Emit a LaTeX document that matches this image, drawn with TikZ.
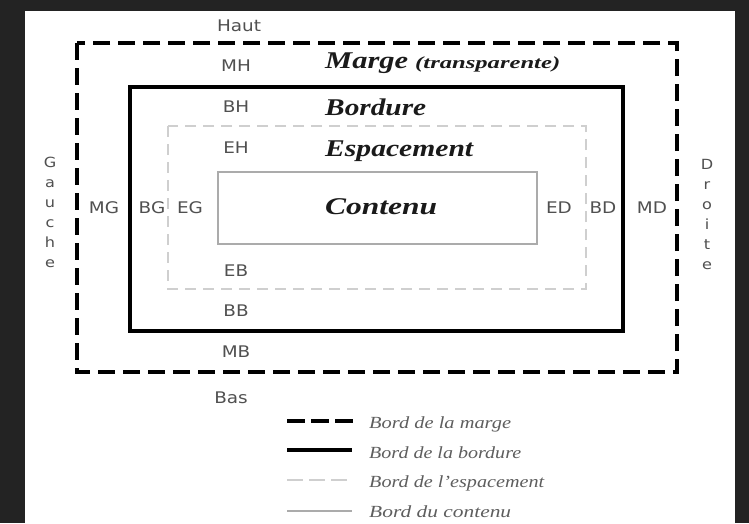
\documentclass[tikz,border=0pt]{standalone}
\usepackage{fontspec}
\setmainfont{Liberation Serif}
\newfontfamily\lab[FakeStretch=1.15]{DejaVu Sans}
\usepackage{graphicx}
\newcommand{\fitto}[2]{\resizebox{#1}{\height}{#2}}
\definecolor{bgdark}{HTML}{232323}
\definecolor{labgray}{HTML}{505050}
\definecolor{inkdark}{HTML}{1A1A1A}
\definecolor{legendgray}{HTML}{5E5E5E}
\definecolor{spacegray}{HTML}{CFCFCF}
\definecolor{contentgray}{HTML}{ABABAB}

\tikzset{
  side/.style={font=\lab\fontsize{16}{16}\selectfont, text=labgray, inner sep=0pt},
  vside/.style={font=\lab\fontsize{14}{20}\selectfont, text=labgray, inner sep=0pt, align=center},
  area/.style={font=\bfseries\itshape\fontsize{24}{24}\selectfont, text=inkdark, inner sep=0pt, anchor=base west},
  legtext/.style={font=\itshape\fontsize{17}{17}\selectfont, text=legendgray, inner sep=0pt, anchor=base west},
  margeline/.style={line width=4pt, black, dash pattern=on 17pt off 8pt},
  bordureline/.style={line width=4pt, black},
  espaceline/.style={line width=1.8pt, spacegray, dash pattern=on 11pt off 7pt},
  contenuline/.style={line width=1.5pt, contentgray}
}

\begin{document}
\begin{tikzpicture}[x=1pt, y=-1pt]
  % page and dark surround
  \fill[bgdark] (0,0) rectangle (749,523);
  \fill[white] (25,11) rectangle (735,523);
  \useasboundingbox (0,0) rectangle (749,523);

  % the four nested edges
  \draw[margeline] (77,43) rectangle (677,372);
  \draw[bordureline] (130,87) rectangle (623,331);
  \draw[espaceline] (168,126) rectangle (586,289);
  \draw[contenuline] (218,172) rectangle (537,244);

  % vertical labels
  \node[side] (haut) at (239,26) {Haut};
  \node[side] (mh) at (236,66) {MH};
  \node[side] (bh) at (236,107) {BH};
  \node[side] (eh) at (236,148) {EH};
  \node[side] (eb) at (236,271) {EB};
  \node[side] (bb) at (236,311) {BB};
  \node[side] (mb) at (236,352) {MB};
  \node[side] (bas) at (231,398) {Bas};

  % horizontal labels
  \node[side] (mg) at (104,208) {MG};
  \node[side] (bg) at (152,208) {BG};
  \node[side] (eg) at (190,208) {EG};
  \node[side] (ed) at (559,208) {ED};
  \node[side] (bd) at (603,208) {BD};
  \node[side] (md) at (652,208) {MD};

  \node[vside] (gauche) at (50,212) {G\\a\\u\\c\\h\\e};
  \node[vside] (droite) at (707,214) {D\\r\\o\\i\\t\\e};

  % area names
  \node[area] (marge) at (325,68) {\fitto{83pt}{Marge}};
  \node[area, font=\bfseries\itshape\fontsize{17}{17}\selectfont] (transp) at (415,68) {\fitto{145pt}{(transparente)}};
  \node[area] (bordure) at (325,115) {\fitto{101pt}{Bordure}};
  \node[area] (espacement) at (325,156) {\fitto{148pt}{Espacement}};
  \node[area] (contenu) at (325,214) {\fitto{112pt}{Contenu}};

  % legend
  \draw[line width=4pt, black, dash pattern=on 18pt off 6pt] (287,421) -- (353,421);
  \draw[bordureline] (287,450) -- (352,450);
  \draw[line width=1.5pt, spacegray, dash pattern=on 16pt off 6pt] (287,480) -- (353,480);
  \draw[line width=2pt, contentgray] (287,511) -- (352,511);

  \node[legtext] (lmarge) at (369,428) {\fitto{142pt}{Bord de la marge}};
  \node[legtext] (lbordure) at (369,458) {\fitto{152pt}{Bord de la bordure}};
  \node[legtext] (lespace) at (369,487) {\fitto{175pt}{Bord de l'espacement}};
  \node[legtext] (lcontenu) at (369,517) {\fitto{142pt}{Bord du contenu}};
\end{tikzpicture}
\end{document}
